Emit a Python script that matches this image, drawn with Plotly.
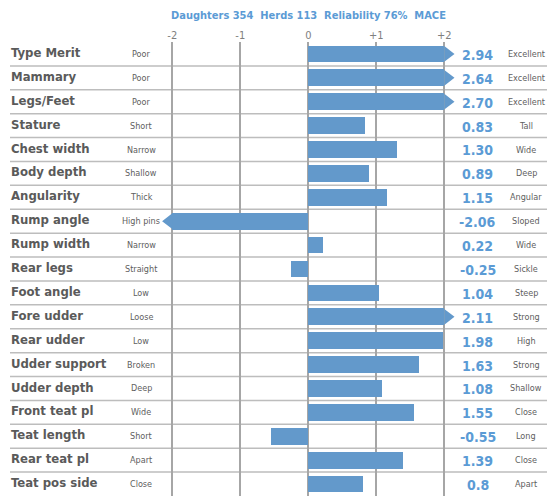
import plotly.graph_objects as go

title_text = "Daughters 354  Herds 113  Reliability 76%  MACE"
traits = ["Type Merit", "Mammary", "Legs/Feet", "Stature", "Chest width", "Body depth",
          "Angularity", "Rump angle", "Rump width", "Rear legs", "Foot angle", "Fore udder",
          "Rear udder", "Udder support", "Udder depth", "Front teat pl", "Teat length",
          "Rear teat pl", "Teat pos side"]
low_labels = ["Poor", "Poor", "Poor", "Short", "Narrow", "Shallow", "Thick", "High pins",
              "Narrow", "Straight", "Low", "Loose", "Low", "Broken", "Deep", "Wide", "Short",
              "Apart", "Close"]
high_labels = ["Excellent", "Excellent", "Excellent", "Tall", "Wide", "Deep", "Angular",
               "Sloped", "Wide", "Sickle", "Steep", "Strong", "High", "Strong", "Shallow",
               "Close", "Long", "Close", "Apart"]
value_text = ["2.94", "2.64", "2.70", "0.83", "1.30", "0.89", "1.15", "-2.06", "0.22", "-0.25",
              "1.04", "2.11", "1.98", "1.63", "1.08", "1.55", "-0.55", "1.39", "0.8"]
values = [float(v) for v in value_text]
tick_vals = [-2, -1, 0, 1, 2]
tick_text = ["-2", "-1", "0", "+1", "+2"]
clip = 2.0

W, H = 547, 496
TOP = 42
FONT = "DejaVu Sans Condensed, Liberation Sans Narrow, sans-serif"
BLUE_BAR = "#6399CB"
BLUE_TXT = "#5B9BD5"
GRAY_TXT = "#5A5A5A"

n = len(traits)
ys = list(range(n))
clipped = [max(-clip, min(clip, v)) for v in values]

fig = go.Figure()
fig.add_trace(go.Bar(x=clipped, y=ys, orientation="h", width=0.7,
                     marker=dict(color=BLUE_BAR, line=dict(width=0)),
                     hoverinfo="skip"))

# arrow heads for values beyond the axis limit
ax_, ay_ = [], []
half, tip = 0.33, 0.15
for i, v in enumerate(values):
    if abs(v) > clip:
        s = 1 if v > 0 else -1
        base = s * clip
        ax_ += [base, base + s * tip, base, base, None]
        ay_ += [i - half, i, i + half, i - half, None]
fig.add_trace(go.Scatter(x=ax_, y=ay_, mode="lines", fill="toself",
                         fillcolor=BLUE_BAR, line=dict(width=0, color=BLUE_BAR),
                         hoverinfo="skip"))

shapes = []
for i in range(n - 1):
    shapes.append(dict(type="line", xref="paper", yref="y", x0=10 / W, x1=1,
                       y0=i + 0.5, y1=i + 0.5, line=dict(color="#BDBDBD", width=1.5),
                       layer="below"))

ann = []
for i in range(n):
    ann.append(dict(text=traits[i], xref="paper", yref="y", x=9 / W, y=i - 0.06,
                    xanchor="left", yanchor="middle", showarrow=False,
                    font=dict(family=FONT, size=13, color=GRAY_TXT, weight="bold")))
    ann.append(dict(text=low_labels[i], xref="paper", yref="y", x=141 / W, y=i,
                    xanchor="center", yanchor="middle", showarrow=False,
                    font=dict(family=FONT, size=9, color="#606060")))
    ann.append(dict(text=value_text[i], xref="paper", yref="y", x=478 / W, y=i + 0.04,
                    xanchor="center", yanchor="middle", showarrow=False,
                    font=dict(family=FONT, size=14, color=BLUE_TXT, weight="bold")))
    ann.append(dict(text=high_labels[i], xref="paper", yref="y", x=526 / W, y=i,
                    xanchor="center", yanchor="middle", showarrow=False,
                    font=dict(family=FONT, size=9, color="#606060")))
plot_h = H - TOP
ann.append(dict(text=title_text, xref="paper", yref="paper", x=308 / W,
                y=1 + (TOP - 15) / plot_h,
                yanchor="middle", xanchor="center", showarrow=False,
                font=dict(family=FONT, size=11, color=BLUE_TXT, weight="bold")))

zero_px = 308.3
ppu = 68.0
fig.update_layout(
    width=W, height=H,
    margin=dict(l=0, r=0, t=TOP, b=0, pad=0),
    paper_bgcolor="white", plot_bgcolor="white",
    showlegend=False,
    shapes=shapes, annotations=ann,
    bargap=0,
    xaxis=dict(range=[-zero_px / ppu, (W - zero_px) / ppu], side="top",
               tickvals=tick_vals, ticktext=tick_text, showgrid=True,
               gridcolor="#A6A6A6", gridwidth=1.5, zeroline=True,
               zerolinecolor="#A6A6A6", zerolinewidth=1.5, showline=False,
               ticks="", tickfont=dict(family=FONT, size=11, color="#7F7F7F"),
               fixedrange=True),
    yaxis=dict(range=[n - 0.5, -0.5], showticklabels=False, showgrid=False,
               zeroline=False, showline=False, fixedrange=True),
)

fig.write_html("out.html", config={"displayModeBar": False},
               post_script="document.body.style.margin='0';document.body.style.padding='0';")
